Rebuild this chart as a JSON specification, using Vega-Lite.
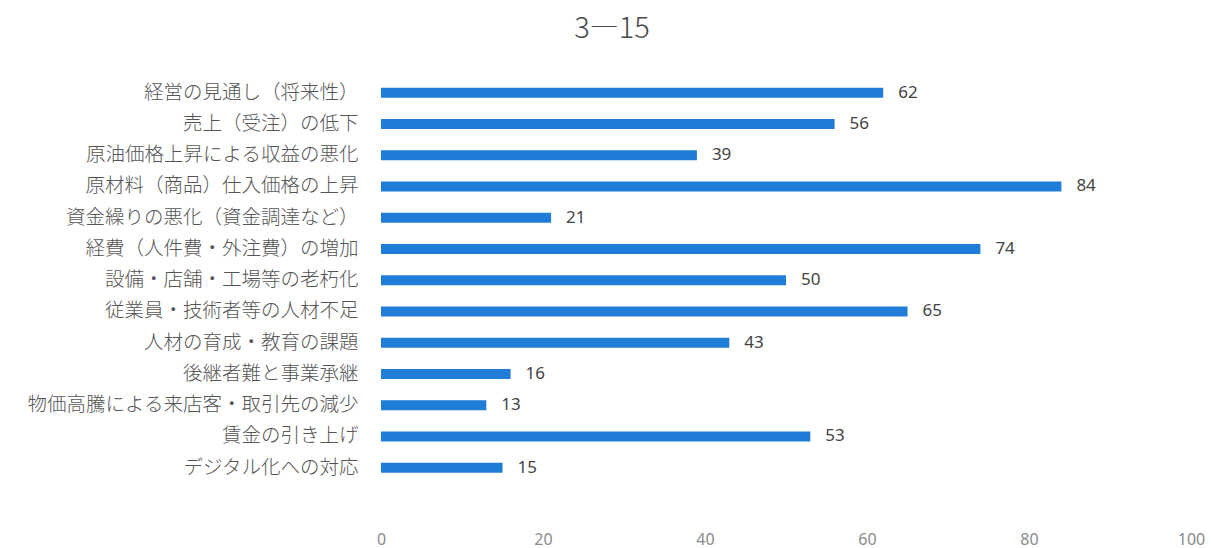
{
  "$schema": "https://vega.github.io/schema/vega-lite/v6.json",
  "autosize": "none",
  "width": 810,
  "height": 406.25,
  "padding": {"left": 381, "top": 77, "right": 20, "bottom": 65},
  "background": "white",
  "title": {
    "text": "3―15",
    "anchor": "middle",
    "dx": -174,
    "offset": 10,
    "baseline": "alphabetic",
    "font": "Noto Sans CJK JP",
    "fontSize": 29,
    "fontWeight": 300,
    "color": "#4a4a4a"
  },
  "data": {
    "values": [
      {"item": "経営の見通し（将来性）", "count": 62},
      {"item": "売上（受注）の低下", "count": 56},
      {"item": "原油価格上昇による収益の悪化", "count": 39},
      {"item": "原材料（商品）仕入価格の上昇", "count": 84},
      {"item": "資金繰りの悪化（資金調達など）", "count": 21},
      {"item": "経費（人件費・外注費）の増加", "count": 74},
      {"item": "設備・店舗・工場等の老朽化", "count": 50},
      {"item": "従業員・技術者等の人材不足", "count": 65},
      {"item": "人材の育成・教育の課題", "count": 43},
      {"item": "後継者難と事業承継", "count": 16},
      {"item": "物価高騰による来店客・取引先の減少", "count": 13},
      {"item": "賃金の引き上げ", "count": 53},
      {"item": "デジタル化への対応", "count": 15}
    ]
  },
  "config": {"view": {"stroke": null}},
  "encoding": {
    "y": {
      "field": "item",
      "type": "nominal",
      "sort": null,
      "scale": {"paddingInner": 0.68, "paddingOuter": 0.34},
      "axis": {
        "title": null,
        "domain": false,
        "ticks": false,
        "labelPadding": 23,
        "labelFont": "Noto Sans CJK JP",
        "labelFontSize": 19.5,
        "labelFontWeight": 300,
        "labelColor": "#555555",
        "labelLimit": 400
      }
    },
    "x": {
      "field": "count",
      "type": "quantitative",
      "scale": {"domain": [0, 100], "nice": false},
      "axis": {
        "title": null,
        "values": [0, 20, 40, 60, 80, 100],
        "grid": false,
        "domain": false,
        "ticks": false,
        "labelFlush": false,
        "labelPadding": 48,
        "labelFont": "Noto Sans",
        "labelFontSize": 16,
        "labelColor": "#8a8a8a"
      }
    }
  },
  "layer": [
    {"mark": {"type": "bar", "color": "#1f7dd7"}},
    {
      "mark": {
        "type": "text",
        "align": "left",
        "baseline": "middle",
        "dx": 15,
        "font": "Noto Sans",
        "fontSize": 17,
        "color": "#444444"
      },
      "encoding": {"text": {"field": "count", "type": "quantitative"}}
    }
  ]
}
